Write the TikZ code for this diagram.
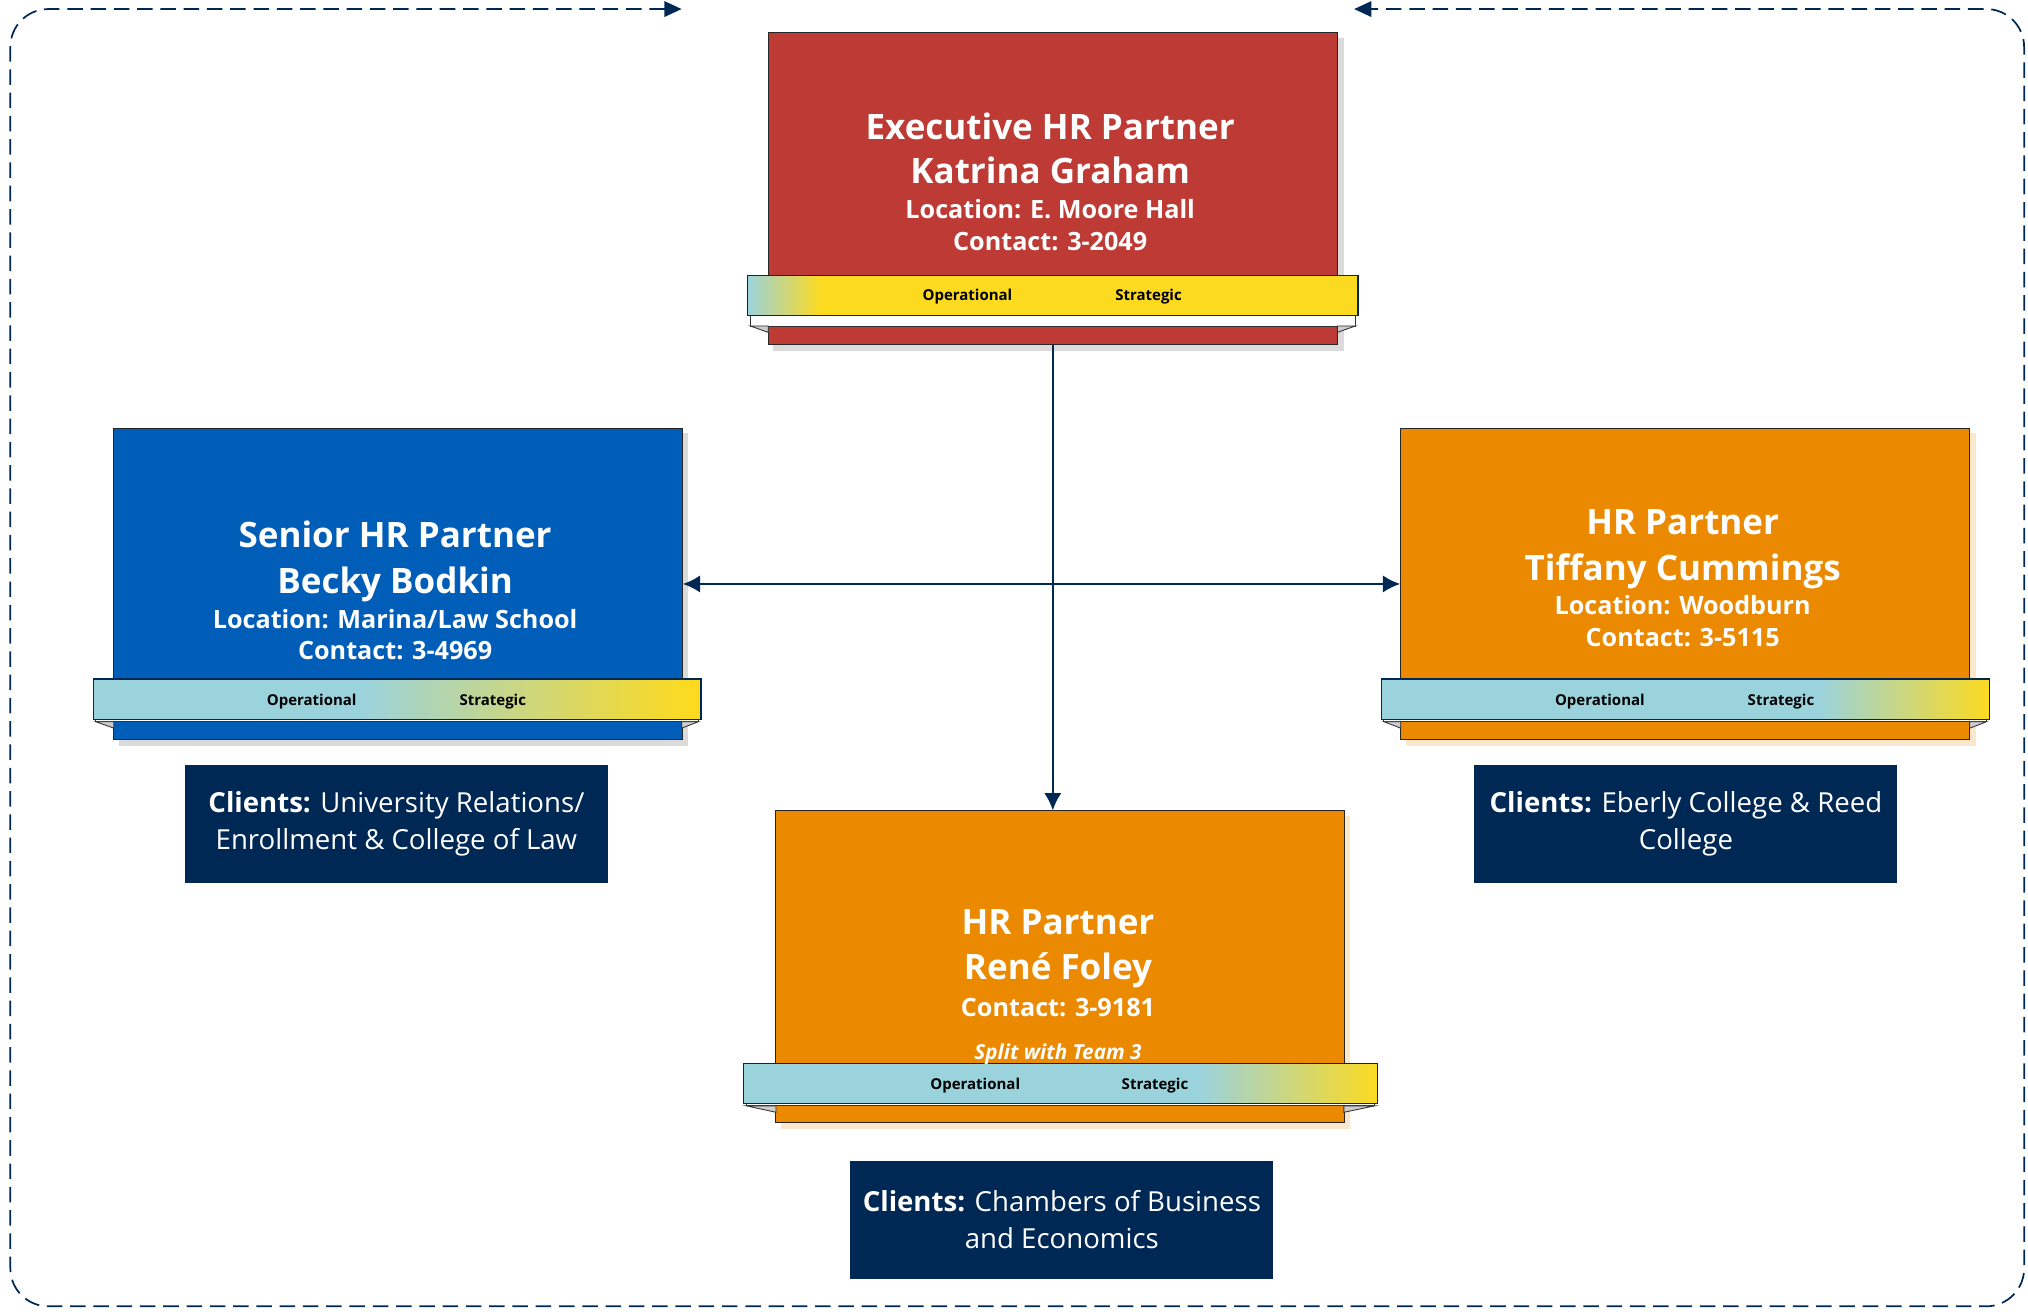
\documentclass[tikz,border=0pt]{standalone}
\usepackage{fontspec}
\setmainfont{Open Sans}
\usetikzlibrary{arrows.meta}

\definecolor{execred}{RGB}{190,58,52}
\definecolor{seniorblue}{RGB}{0,94,184}
\definecolor{partnerorange}{RGB}{235,138,0}
\definecolor{navy}{RGB}{0,40,85}
\definecolor{ribbonteal}{RGB}{155,211,221}
\definecolor{ribbonyellow}{RGB}{252,218,32}

\pgfdeclarehorizontalshading{ribbonexec}{100bp}{color(0bp)=(ribbonteal); color(25bp)=(ribbonteal); color(31bp)=(ribbonyellow); color(100bp)=(ribbonyellow)}
\pgfdeclarehorizontalshading{ribbonsenior}{100bp}{color(0bp)=(ribbonteal); color(47bp)=(ribbonteal); color(74bp)=(ribbonyellow); color(100bp)=(ribbonyellow)}
\pgfdeclarehorizontalshading{ribbonpartner}{100bp}{color(0bp)=(ribbonteal); color(61bp)=(ribbonteal); color(75bp)=(ribbonyellow); color(100bp)=(ribbonyellow)}

\tikzset{
  card/.style={draw=black!85, line width=0.6pt, minimum width=330pt, minimum height=180.75pt, inner sep=0pt},
  cardshadow/.style={fill=black!14},
  ribbon/.style={draw=navy, line width=0.7pt, minimum height=23.25pt, inner sep=0pt},
  strip/.style={draw=black!80, line width=0.5pt, fill=white},
  fold/.style={draw=black!80, line width=0.5pt, fill=black!20},
  titletext/.style={text=white, anchor=base, inner sep=0pt, font=\fontsize{20.3}{24}\selectfont\bfseries},
  infotext/.style={text=white, anchor=base, inner sep=0pt, font=\fontsize{14.6}{17}\selectfont\bfseries},
  splittext/.style={text=white, anchor=base, inner sep=0pt, font=\fontsize{12}{14}\selectfont\bfseries\itshape},
  ribbontext/.style={text=black, anchor=base, inner sep=0pt, font=\fontsize{8.7}{10}\selectfont\bfseries},
  clientbox/.style={fill=navy, text=white, minimum width=245.25pt, minimum height=68.25pt, inner sep=0pt, align=center, font=\fontsize{16}{21}\selectfont},
  connector/.style={draw=navy, line width=1.3pt},
  tip/.style={-{Latex[length=10pt,width=10pt]}},
  frame/.style={draw=navy, line width=1pt, dash pattern=on 9pt off 4.5pt, rounded corners=22pt},
}

\begin{document}
\begin{tikzpicture}[x=0.75pt,y=0.75pt,yscale=-1,xscale=1]
\useasboundingbox (0,0) rectangle (1568,1014);

%Shape: Shadows
\fill[cardshadow] (598,29) rectangle (1039,271);
\fill[cardshadow] (92,335) rectangle (532,577);
\fill[cardshadow, fill=partnerorange!20] (1087,335) rectangle (1528,577);
\fill[cardshadow, fill=partnerorange!20] (604,631) rectangle (1044,873);

%Shape: Cards
\node[card, fill=execred] (exec) at (814,145.5) {};
\node[card, fill=seniorblue] (bodkin) at (307.5,451.5) {};
\node[card, fill=partnerorange] (cummings) at (1303,451.5) {};
\node[card, fill=partnerorange] (foley) at (819.5,747.5) {};

%Shape: Strips and folds under the ribbons
\draw[strip] (580,244) -- (580,252) -- (1048,252) -- (1048,244);
\draw[fold] (580,252) -- (594,257) -- (594,252) -- cycle;
\draw[fold] (1048,252) -- (1034,257) -- (1034,252) -- cycle;
\draw[strip] (74,556) -- (74,558) -- (540,558) -- (540,556);
\draw[fold] (74,558) -- (88,563) -- (88,558) -- cycle;
\draw[fold] (540,558) -- (527,563) -- (527,558) -- cycle;
\draw[strip] (1070,556) -- (1070,558) -- (1536,558) -- (1536,556);
\draw[fold] (1070,558) -- (1083,563) -- (1083,558) -- cycle;
\draw[fold] (1536,558) -- (1523,563) -- (1523,558) -- cycle;
\draw[strip] (577,853) -- (577,855) -- (1063,855) -- (1063,853);
\draw[fold] (577,855) -- (600,860) -- (600,855) -- cycle;
\draw[fold] (1063,855) -- (1039,860) -- (1039,855) -- cycle;

%Shape: Ribbons
\node[ribbon, shading=ribbonexec, minimum width=354pt] (execribbon) at (814,228.5) {};
\node[ribbon, shading=ribbonsenior, minimum width=352.5pt] (bodkinribbon) at (307,540.5) {};
\node[ribbon, shading=ribbonpartner, minimum width=352.5pt] (cummingsribbon) at (1303,540.5) {};
\node[ribbon, shading=ribbonpartner, minimum width=367.5pt] (foleyribbon) at (820,837.5) {};

% Text Node
\node[titletext] (exectitle) at (812,107.5) {Executive HR Partner};
\node[titletext] (execname) at (812,141.5) {Katrina Graham};
\node[infotext] (execloc) at (812,169) {Location: E. Moore Hall};
\node[infotext] (execcontact) at (812,194) {Contact: 3-2049};
\node[ribbontext] (execop) at (748,232.5) {Operational};
\node[ribbontext] (execst) at (888,232.5) {Strategic};

% Text Node
\node[titletext] (bodkintitle) at (305.5,423.5) {Senior HR Partner};
\node[titletext] (bodkinname) at (305.5,458.5) {Becky Bodkin};
\node[infotext] (bodkinloc) at (305.5,486) {Location: Marina/Law School};
\node[infotext] (bodkincontact) at (305.5,510) {Contact: 3-4969};
\node[ribbontext] (bodkinop) at (241,545.5) {Operational};
\node[ribbontext] (bodkinst) at (381,545.5) {Strategic};

% Text Node
\node[titletext] (cummingstitle) at (1301,413.5) {HR Partner};
\node[titletext] (cummingsname) at (1301,448.5) {Tiffany Cummings};
\node[infotext] (cummingsloc) at (1301,475) {Location: Woodburn};
\node[infotext] (cummingscontact) at (1301,500) {Contact: 3-5115};
\node[ribbontext] (cummingsop) at (1237,545.5) {Operational};
\node[ribbontext] (cummingsst) at (1377,545.5) {Strategic};

% Text Node
\node[titletext] (foleytitle) at (818,722.5) {HR Partner};
\node[titletext] (foleyname) at (818,757.5) {René Foley};
\node[infotext] (foleycontact) at (818,786) {Contact: 3-9181};
\node[splittext] (foleysplit) at (818,819.5) {Split with Team 3};
\node[ribbontext] (foleyop) at (754,842.5) {Operational};
\node[ribbontext] (foleyst) at (893,842.5) {Strategic};

%Shape: Client boxes
\node[clientbox] (bodkinclients) at (306.5,637) {\textbf{Clients:} University Relations/\\Enrollment \& College of Law};
\node[clientbox] (cummingsclients) at (1303.5,637) {\textbf{Clients:} Eberly College \& Reed\\College};
\node[clientbox] (foleyclients) at (821,943) {\textbf{Clients:} Chambers of Business\\and Economics};

%Straight Lines
\draw[connector, tip] (exec.south) -- (exec.south |- foley.north);
\draw[connector, {Latex[length=10pt,width=10pt]}-{Latex[length=10pt,width=10pt]}] (bodkin.east) -- (cummings.west);

%Dashed loop round the team
\coordinate (loopstart) at (527,7);
\coordinate (loopend) at (1047,7);
\draw[frame, {Triangle[length=10pt,width=9pt]}-{Triangle[length=10pt,width=9pt]}] (loopstart) -- (8,7) -- (8,1010) -- (1565,1010) -- (1565,7) -- (loopend);

\end{tikzpicture}
\end{document}
